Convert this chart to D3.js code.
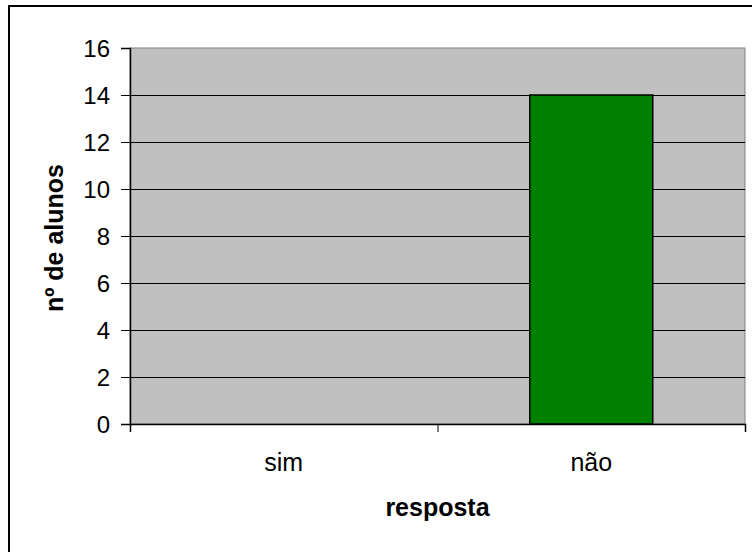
<!DOCTYPE html>
<html>
<head>
<meta charset="utf-8">
<script src="https://cdn.jsdelivr.net/npm/d3@7"></script>
<style>
  body { margin: 0; background: #fff; }
  text { font-family: Arial, "Liberation Sans", sans-serif; fill: #000; }
</style>
</head>
<body>
<script>
var categories = ['sim', 'não'];
var values = [0, 14];
var yTicks = [0, 2, 4, 6, 8, 10, 12, 14, 16];

var w = 752,
    h = 552;

// plot area edges
var pLeft = 130, pRight = 745, pTop = 48, pBottom = 424;

var svg = d3.select('body').append('svg')
  .attr('width', w)
  .attr('height', h);

// chart frame (cut off on the right and bottom in the original)
svg.append('rect')
  .attr('x', 9)
  .attr('y', 6)
  .attr('width', 800)
  .attr('height', 600)
  .attr('fill', '#fff')
  .attr('stroke', '#000')
  .attr('stroke-width', 2);

var x = d3.scaleBand()
  .domain(categories)
  .range([pLeft, pRight])
  .paddingInner(0.6)
  .paddingOuter(0.3);

var xEdge = d3.scalePoint()
  .domain(d3.range(categories.length + 1))
  .range([pLeft, pRight]);

var y = d3.scaleLinear()
  .domain([0, 16])
  .range([pBottom, pTop]);

svg.append('rect')
  .attr('x', pLeft)
  .attr('y', pTop)
  .attr('width', pRight - pLeft)
  .attr('height', pBottom - pTop)
  .attr('fill', '#c0c0c0')
  .attr('stroke', '#808080')
  .attr('stroke-width', 1);

svg.append('g').selectAll('line.grid')
    .data(yTicks.filter(function(d) { return d > 0 && d < 16; }))
  .enter().append('line')
    .attr('class', 'grid')
    .attr('x1', pLeft)
    .attr('x2', pRight)
    .attr('y1', function(d) { return Math.round(y(d)) + 0.5; })
    .attr('y2', function(d) { return Math.round(y(d)) + 0.5; })
    .attr('stroke', '#000')
    .attr('stroke-width', 1);

svg.append('g').selectAll('rect.bar')
    .data(values)
  .enter().append('rect')
    .attr('class', 'bar')
    .attr('x', function(d, i) { return x(categories[i]); })
    .attr('y', function(d) { return y(d); })
    .attr('width', x.bandwidth())
    .attr('height', function(d) { return y(0) - y(d); })
    .attr('fill', '#008000')
    .attr('stroke', '#000')
    .attr('stroke-width', 1.5)
    .style('display', function(d) { return d > 0 ? null : 'none'; });

// y axis
var yAxis = svg.append('g')
  .attr('transform', 'translate(' + pLeft + ',0)')
  .call(d3.axisLeft(y).tickValues(yTicks).tickSize(9).tickPadding(11));
yAxis.select('.domain').attr('stroke', '#000').attr('stroke-width', 1.5);
yAxis.selectAll('.tick line').attr('stroke', '#000');
yAxis.selectAll('text').style('font-size', '24px').attr('dy', '0.36em');

// x axis
var xAxis = svg.append('g')
  .attr('transform', 'translate(0,' + pBottom + ')')
  .call(d3.axisBottom(xEdge).tickSize(8).tickFormat(''));
xAxis.select('.domain').attr('stroke', '#000').attr('stroke-width', 1.5);
xAxis.selectAll('.tick line').attr('stroke', '#000');

svg.append('g').selectAll('text.cat')
    .data(categories)
  .enter().append('text')
    .attr('class', 'cat')
    .attr('x', function(d) { return x(d) + x.bandwidth() / 2; })
    .attr('y', 471)
    .attr('text-anchor', 'middle')
    .style('font-size', '25px')
    .text(function(d) { return d; });

svg.append('text')
  .attr('x', (pLeft + pRight) / 2)
  .attr('y', 516)
  .attr('text-anchor', 'middle')
  .style('font-size', '25px')
  .style('font-weight', 'bold')
  .text('resposta');

svg.append('text')
  .attr('transform', 'translate(' + 63 + ',' + 238 + ') rotate(-90)')
  .attr('text-anchor', 'middle')
  .style('font-size', '25px')
  .style('font-weight', 'bold')
  .text('nº de alunos');
</script>
</body>
</html>
